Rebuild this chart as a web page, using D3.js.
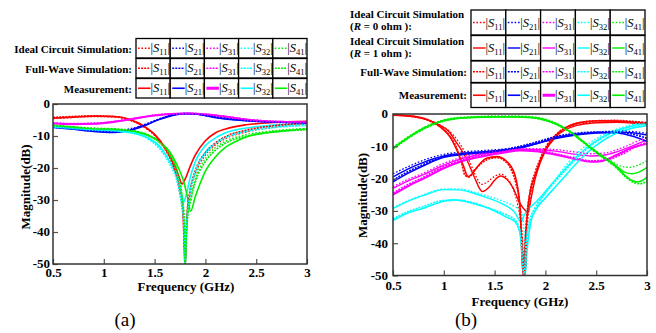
<!DOCTYPE html>
<html><head><meta charset="utf-8">
<script src="https://cdn.jsdelivr.net/npm/d3@7"></script>
<style>html,body{margin:0;padding:0;background:#fff;}svg{display:block;}</style>
</head><body>
<script>
// ---------------- DATA ----------------
const xTicks = [0.5, 1, 1.5, 2, 2.5, 3];
const yTicks = [0, -10, -20, -30, -40, -50];
const seriesNames = ["S11", "S21", "S31", "S32", "S41"];
const seriesColors = ["#ff0000", "#0000ff", "#ff00ff", "#00ffff", "#00ee00"];

// (a) [frequency GHz, magnitude dB]
const a_ideal_S11 = [[0.5,-4.6],[0.7,-4.2],[0.9,-3.9],[1.1,-4.1],[1.25,-5.0],[1.4,-7.3],[1.5,-9.8],[1.6,-13.8],[1.7,-20.5],[1.75,-27],[1.78,-34],[1.8,-50],[1.82,-35],[1.85,-28],[1.9,-22],[2.0,-16],[2.1,-12.8],[2.2,-10.8],[2.4,-8.8],[2.6,-7.6],[2.8,-6.8],[3.0,-6.3]];
const a_ideal_S21 = [[0.5,-7.0],[0.7,-7.6],[0.9,-8.1],[1.1,-8.3],[1.25,-7.8],[1.4,-6.4],[1.55,-4.6],[1.7,-3.3],[1.8,-3.0],[1.9,-3.1],[2.1,-4.0],[2.3,-4.8],[2.5,-5.3],[2.7,-5.6],[3.0,-5.9]];
const a_ideal_S31 = [[0.5,-5.9],[0.7,-6.1],[0.9,-6.0],[1.1,-5.4],[1.3,-4.4],[1.5,-3.5],[1.7,-3.0],[1.85,-3.0],[2.0,-3.2],[2.2,-3.9],[2.4,-4.7],[2.6,-5.3],[2.8,-5.7],[3.0,-5.9]];
const a_ideal_S32 = [[0.5,-7.0],[0.7,-7.5],[0.9,-7.9],[1.1,-8.1],[1.3,-8.9],[1.45,-10.8],[1.55,-13.5],[1.65,-18],[1.72,-23],[1.76,-29],[1.79,-37],[1.8,-50],[1.81,-40],[1.84,-29],[1.9,-21],[2.0,-15],[2.1,-12],[2.2,-10.2],[2.4,-8.3],[2.6,-7.3],[2.8,-6.8],[3.0,-6.5]];
const a_ideal_S41 = [[0.5,-6.6],[0.7,-7.1],[0.9,-7.5],[1.1,-7.7],[1.3,-8.3],[1.45,-9.8],[1.55,-11.8],[1.65,-15.5],[1.72,-20.5],[1.76,-26],[1.79,-35],[1.8,-50],[1.82,-36],[1.86,-28.5],[1.9,-23.5],[2.0,-17],[2.1,-13.6],[2.2,-11.6],[2.4,-9.6],[2.6,-8.6],[2.8,-8.0],[3.0,-7.6]];

const a_fw_S11 = [[0.5,-4.2],[0.7,-3.9],[0.9,-3.7],[1.1,-3.9],[1.25,-4.9],[1.4,-7.2],[1.5,-9.7],[1.6,-13.9],[1.7,-21],[1.75,-28],[1.78,-35],[1.8,-50],[1.82,-34],[1.85,-27],[1.9,-21],[2.0,-15.2],[2.1,-12.2],[2.2,-10.2],[2.4,-8.2],[2.6,-7.1],[2.8,-6.4],[3.0,-6.0]];
const a_fw_S21 = [[0.5,-7.2],[0.7,-7.8],[0.9,-8.4],[1.1,-8.6],[1.25,-8.1],[1.4,-6.6],[1.55,-4.7],[1.7,-3.3],[1.8,-3.0],[1.9,-3.1],[2.1,-4.1],[2.3,-4.9],[2.5,-5.4],[2.7,-5.7],[3.0,-6.0]];
const a_fw_S31 = [[0.5,-6.0],[0.7,-6.2],[0.9,-6.1],[1.1,-5.5],[1.3,-4.5],[1.5,-3.5],[1.7,-3.0],[1.85,-2.9],[2.0,-3.2],[2.2,-3.9],[2.4,-4.8],[2.6,-5.3],[2.8,-5.6],[3.0,-5.8]];
const a_fw_S32 = [[0.5,-7.1],[0.7,-7.6],[0.9,-8.0],[1.1,-8.3],[1.3,-9.1],[1.45,-11.2],[1.55,-14],[1.65,-18.8],[1.72,-24],[1.76,-30],[1.79,-38],[1.8,-50],[1.81,-41],[1.84,-30],[1.9,-21.5],[2.0,-15.5],[2.1,-12.4],[2.2,-10.5],[2.4,-8.6],[2.6,-7.6],[2.8,-7.0],[3.0,-6.7]];
const a_fw_S41 = [[0.5,-6.7],[0.7,-7.2],[0.9,-7.7],[1.1,-7.9],[1.3,-8.5],[1.45,-10],[1.55,-12.1],[1.65,-16],[1.72,-21],[1.76,-27],[1.79,-36],[1.8,-50],[1.82,-37],[1.86,-29.5],[1.9,-24.5],[2.0,-18],[2.1,-14.4],[2.2,-12.2],[2.4,-10.1],[2.6,-9.0],[2.8,-8.4],[3.0,-8.0]];

const a_meas_S11 = [[0.5,-4.4],[0.7,-4.1],[0.9,-3.8],[1.1,-3.9],[1.25,-4.8],[1.4,-7.0],[1.5,-9.5],[1.6,-13.5],[1.7,-19.5],[1.74,-22.8],[1.77,-25],[1.8,-23.5],[1.85,-19.5],[1.9,-16],[2.0,-11.5],[2.1,-9.0],[2.2,-7.8],[2.4,-6.5],[2.6,-5.9],[2.8,-5.6],[3.0,-5.4]];
const a_meas_S21 = [[0.5,-7.3],[0.7,-7.9],[0.9,-8.6],[1.1,-8.9],[1.25,-8.3],[1.4,-6.8],[1.55,-4.8],[1.7,-3.4],[1.8,-3.0],[1.9,-3.1],[2.1,-4.3],[2.3,-5.0],[2.5,-5.4],[2.7,-5.6],[3.0,-5.8]];
const a_meas_S31 = [[0.5,-6.1],[0.7,-6.3],[0.9,-6.2],[1.1,-5.6],[1.3,-4.6],[1.5,-3.6],[1.7,-3.1],[1.85,-3.0],[2.0,-3.3],[2.2,-4.0],[2.4,-4.9],[2.6,-5.4],[2.8,-5.6],[3.0,-5.7]];
const a_meas_S32 = [[0.5,-7.2],[0.7,-7.7],[0.9,-8.2],[1.1,-8.4],[1.3,-9.2],[1.45,-10.8],[1.55,-13.2],[1.65,-18],[1.72,-22.5],[1.76,-27.5],[1.78,-31],[1.81,-28.5],[1.85,-23],[1.9,-18],[2.0,-13],[2.1,-10.6],[2.2,-9.0],[2.4,-7.5],[2.6,-6.8],[2.8,-6.4],[3.0,-6.1]];
const a_meas_S41 = [[0.5,-6.8],[0.7,-7.3],[0.9,-7.8],[1.1,-8.0],[1.3,-8.6],[1.45,-10],[1.55,-11.8],[1.65,-15],[1.72,-19],[1.78,-23.6],[1.82,-28.5],[1.855,-33.5],[1.9,-29],[1.95,-24.7],[2.0,-21],[2.1,-16.5],[2.2,-13.5],[2.3,-11.7],[2.4,-10.3],[2.6,-9.0],[2.8,-8.3],[3.0,-7.8]];

// (b)
const b_r0_S11 = [[0.5,-0.3],[0.7,-0.7],[0.85,-1.8],[0.95,-3.2],[1.05,-5.2],[1.15,-8.8],[1.25,-14.5],[1.32,-19.5],[1.37,-21.8],[1.43,-21],[1.5,-19.3],[1.56,-18.6],[1.62,-19.8],[1.68,-23],[1.73,-28.5],[1.77,-37],[1.8,-50],[1.82,-36],[1.86,-25],[1.9,-19],[1.95,-14.5],[2.0,-11],[2.1,-6.8],[2.2,-4.5],[2.3,-3.4],[2.5,-2.5],[2.7,-2.4],[2.85,-2.6],[3.0,-2.9]];
const b_r1_S11 = [[0.5,-0.4],[0.7,-0.8],[0.85,-1.9],[0.95,-3.3],[1.05,-5.4],[1.12,-8.6],[1.22,-13.7],[1.3,-19.5],[1.38,-24],[1.45,-22.5],[1.5,-20.5],[1.56,-19.2],[1.62,-20.2],[1.68,-22.8],[1.75,-27.7],[1.8,-29.8],[1.83,-30.5],[1.86,-26],[1.9,-20],[1.95,-15],[2.0,-11.5],[2.1,-7.2],[2.2,-4.8],[2.3,-3.6],[2.5,-2.7],[2.7,-2.6],[2.85,-2.8],[3.0,-3.1]];
const b_fw_S11 = [[0.5,-0.3],[0.7,-0.8],[0.85,-2.0],[0.95,-3.6],[1.05,-6.5],[1.12,-10],[1.17,-14.5],[1.21,-19],[1.25,-19.5],[1.3,-17.5],[1.38,-15],[1.45,-13.8],[1.52,-13.5],[1.6,-14.5],[1.66,-17],[1.71,-21.5],[1.75,-28.5],[1.79,-50],[1.81,-35],[1.85,-24],[1.9,-18],[1.95,-13.8],[2.0,-10.5],[2.1,-6.5],[2.2,-4.2],[2.3,-3.0],[2.5,-2.1],[2.7,-2.0],[2.85,-2.3],[3.0,-2.7]];
const b_meas_S11 = [[0.5,-0.3],[0.7,-0.7],[0.8,-1.3],[0.96,-3.9],[1.06,-7.0],[1.12,-10.6],[1.19,-15.8],[1.24,-19.4],[1.28,-18.5],[1.32,-16.8],[1.42,-13.7],[1.52,-13.2],[1.62,-14.7],[1.7,-18.9],[1.75,-29],[1.78,-50],[1.8,-40],[1.84,-26],[1.9,-18.9],[1.99,-11.6],[2.09,-7.0],[2.22,-3.9],[2.35,-2.6],[2.52,-2.1],[2.7,-2.2],[2.85,-2.5],[3.0,-2.9]];

const b_r0_S21 = [[0.5,-18.5],[0.65,-16.3],[0.8,-14.3],[1.0,-12.5],[1.2,-11.7],[1.4,-11.3],[1.6,-10.8],[1.75,-10.2],[1.9,-9.0],[2.1,-7.3],[2.3,-6.2],[2.5,-5.6],[2.7,-5.3],[2.85,-5.4],[3.0,-6.0]];
const b_r1_S21 = [[0.5,-19.5],[0.65,-17.0],[0.8,-15.0],[1.0,-13.0],[1.2,-12.1],[1.4,-11.7],[1.6,-11.1],[1.75,-10.5],[1.9,-9.3],[2.1,-7.6],[2.3,-6.5],[2.5,-5.9],[2.7,-5.6],[2.85,-5.8],[3.0,-6.5]];
const b_fw_S21 = [[0.5,-20.5],[0.65,-17.8],[0.8,-15.6],[1.0,-13.2],[1.2,-12.3],[1.4,-11.8],[1.6,-11.0],[1.75,-10.0],[1.9,-8.8],[2.1,-7.0],[2.3,-6.0],[2.5,-5.6],[2.7,-5.6],[2.85,-6.2],[3.0,-7.5]];
const b_meas_S21 = [[0.5,-21.0],[0.65,-18.3],[0.8,-16.0],[1.0,-13.4],[1.2,-12.5],[1.4,-12.0],[1.6,-11.2],[1.75,-10.4],[1.9,-9.3],[2.1,-7.4],[2.3,-6.3],[2.5,-5.8],[2.7,-5.9],[2.85,-6.8],[3.0,-8.5]];

const b_r0_S31 = [[0.5,-22.5],[0.65,-20.2],[0.8,-18.3],[1.0,-15.3],[1.2,-13.2],[1.4,-12.0],[1.6,-11.2],[1.75,-10.8],[1.9,-10.7],[2.1,-11.0],[2.3,-11.8],[2.45,-12.3],[2.6,-12.0],[2.75,-10.5],[2.9,-8.5],[3.0,-7.2]];
const b_r1_S31 = [[0.5,-23.0],[0.65,-20.7],[0.8,-18.8],[1.0,-15.8],[1.2,-13.6],[1.4,-12.3],[1.6,-11.5],[1.75,-11.0],[1.9,-11.0],[2.1,-11.5],[2.3,-12.5],[2.45,-13.0],[2.6,-12.6],[2.75,-11.2],[2.9,-9.3],[3.0,-8.0]];
const b_fw_S31 = [[0.5,-24.5],[0.65,-21.8],[0.8,-19.6],[1.0,-16.3],[1.2,-14.0],[1.4,-12.7],[1.6,-11.6],[1.75,-11.0],[1.9,-11.2],[2.1,-12.3],[2.3,-13.7],[2.45,-14.5],[2.6,-14.2],[2.75,-12.5],[2.9,-10.0],[3.0,-8.8]];
const b_meas_S31 = [[0.5,-25.0],[0.65,-22.3],[0.8,-20.0],[1.0,-16.8],[1.2,-14.4],[1.4,-13.0],[1.6,-11.9],[1.75,-11.3],[1.9,-11.5],[2.1,-12.6],[2.3,-14.0],[2.45,-14.8],[2.55,-14.6],[2.7,-12.7],[2.85,-10.5],[3.0,-9.2]];

const b_r0_S32 = [[0.5,-29.0],[0.65,-26.8],[0.8,-25.0],[1.0,-23.2],[1.15,-23.2],[1.3,-24.2],[1.45,-25.6],[1.6,-27.2],[1.7,-28.7],[1.76,-30],[1.79,-36],[1.8,-50],[1.81,-40],[1.85,-33.5],[1.9,-29.5],[2.0,-24.5],[2.1,-20.3],[2.2,-16.0],[2.3,-12.5],[2.4,-9.8],[2.5,-7.6],[2.6,-6.0],[2.7,-4.7],[2.85,-3.3],[3.0,-2.5]];
const b_r1_S32 = [[0.5,-29.3],[0.65,-27.0],[0.8,-25.2],[1.0,-23.4],[1.15,-23.5],[1.3,-24.6],[1.45,-26.2],[1.6,-28.2],[1.7,-30.5],[1.76,-33.5],[1.79,-31.5],[1.83,-29.5],[1.9,-27.5],[2.0,-24],[2.1,-20.3],[2.2,-16.8],[2.3,-13.5],[2.4,-10.6],[2.5,-8.3],[2.6,-6.5],[2.7,-5.1],[2.85,-3.7],[3.0,-2.8]];
const b_fw_S32 = [[0.5,-32.5],[0.65,-30.2],[0.8,-28.6],[1.0,-26.8],[1.15,-26.7],[1.3,-27.6],[1.45,-29.2],[1.6,-31],[1.7,-32.8],[1.75,-36],[1.79,-50],[1.81,-40],[1.85,-32.5],[1.9,-29],[2.0,-24.5],[2.1,-20.8],[2.2,-17.3],[2.3,-13.9],[2.4,-11],[2.5,-8.6],[2.6,-6.7],[2.7,-5.3],[2.85,-3.9],[3.0,-3.0]];
const b_meas_S32 = [[0.5,-33.0],[0.65,-30.6],[0.8,-29.2],[1.0,-27.0],[1.1,-26.6],[1.3,-27.8],[1.5,-30],[1.62,-32],[1.7,-33.3],[1.75,-37],[1.8,-50],[1.82,-42],[1.86,-33],[1.9,-30],[2.0,-26],[2.1,-22.5],[2.2,-19],[2.3,-15.5],[2.4,-12.3],[2.5,-9.7],[2.6,-7.6],[2.7,-6.0],[2.85,-4.4],[3.0,-3.6]];

const b_r0_S41 = [[0.5,-10.3],[0.6,-8.1],[0.7,-6.0],[0.8,-4.2],[0.9,-2.8],[1.0,-1.8],[1.1,-1.2],[1.3,-0.8],[1.5,-0.6],[1.7,-0.6],[1.85,-0.8],[1.95,-1.2],[2.05,-2.1],[2.15,-3.5],[2.25,-5.4],[2.35,-7.8],[2.45,-10.3],[2.55,-12.6],[2.65,-14.6],[2.72,-15.9],[2.78,-16.4],[2.83,-16.5],[2.9,-16.0],[2.95,-15.3],[3.0,-14.5]];
const b_r1_S41 = [[0.5,-10.5],[0.6,-8.3],[0.7,-6.2],[0.8,-4.4],[0.9,-3.0],[1.0,-2.0],[1.1,-1.4],[1.3,-1.0],[1.5,-0.8],[1.7,-0.8],[1.85,-1.0],[1.95,-1.4],[2.05,-2.3],[2.15,-3.7],[2.25,-5.6],[2.35,-8.0],[2.45,-10.5],[2.55,-12.8],[2.65,-14.9],[2.72,-16.6],[2.78,-18.0],[2.85,-18.5],[2.92,-18.0],[3.0,-16.5]];
const b_fw_S41 = [[0.5,-10.8],[0.6,-8.6],[0.7,-6.5],[0.8,-4.7],[0.9,-3.2],[1.0,-2.2],[1.1,-1.5],[1.3,-1.0],[1.5,-0.9],[1.7,-0.9],[1.85,-1.1],[1.95,-1.6],[2.05,-2.5],[2.15,-3.9],[2.25,-5.8],[2.35,-8.2],[2.45,-10.8],[2.55,-13.2],[2.65,-15.4],[2.72,-17.3],[2.8,-19.8],[2.87,-21.2],[2.93,-21.6],[3.0,-20.8]];
const b_meas_S41 = [[0.5,-10.6],[0.6,-8.4],[0.7,-6.3],[0.8,-4.5],[0.9,-3.1],[1.0,-2.1],[1.1,-1.5],[1.3,-1.1],[1.5,-0.9],[1.7,-0.9],[1.85,-1.1],[1.95,-1.5],[2.05,-2.4],[2.15,-3.8],[2.25,-5.7],[2.35,-8.1],[2.45,-10.6],[2.55,-13.0],[2.65,-15.1],[2.72,-17.0],[2.8,-19.5],[2.86,-20.7],[2.9,-21.0],[2.96,-20.5],[3.0,-19.5]];

// ---------------- DRAWING ----------------
const SERIF = '"Times New Roman", "Liberation Serif", "DejaVu Serif", serif';
const styles = {
  ideal: {dash: "1.6,1.8", width: 1.3},
  r0:    {dash: "1.6,1.8", width: 1.3},
  r1:    {dash: null, width: 1.4},
  fw:    {dash: "2,1.1", width: 1.7},
  meas:  {dash: null, width: 1.6}
};

const svg = d3.select("body").append("svg").attr("width", 656).attr("height", 333)
  .style("font-family", SERIF);

function drawPanel(id, box, sets, xLab, yLab, caption, pads) {
  const x = d3.scaleLinear().domain([0.5, 3]).range([box.x0, box.x1]);
  const y = d3.scaleLinear().domain([0, -50]).range([box.y0, box.y1]);
  const g = svg.append("g");
  g.append("clipPath").attr("id", id).append("rect")
    .attr("x", box.x0).attr("y", box.y0).attr("width", box.x1 - box.x0).attr("height", box.y1 - box.y0);
  const line = d3.line().x(d => x(d[0])).y(d => y(d[1])).curve(d3.curveMonotoneX);
  const lg = g.append("g").attr("clip-path", `url(#${id})`);
  sets.forEach(set => {
    set.data.forEach((arr, i) => {
      const st = styles[set.type];
      let w = st.width;
      if (set.type === "meas" && seriesNames[i] === "S31") w = 2.0;
      lg.append("path").attr("d", line(arr)).attr("fill", "none")
        .attr("stroke", seriesColors[i]).attr("stroke-width", w)
        .attr("stroke-dasharray", st.dash);
    });
  });
  // axes
  const xa = g.append("g").attr("transform", `translate(0,${box.y1})`)
    .call(d3.axisBottom(x).tickValues(xTicks).tickSizeInner(-5).tickSizeOuter(0).tickPadding(pads[0]).tickFormat(d => String(d)));
  const ya = g.append("g").attr("transform", `translate(${box.x0},0)`)
    .call(d3.axisLeft(y).tickValues(yTicks).tickSizeInner(-5).tickSizeOuter(0).tickPadding(pads[1]).tickFormat(d => String(d)));
  [xa, ya].forEach(a => {
    a.attr("font-family", null);
    a.select(".domain").remove();
    a.selectAll(".tick line").attr("stroke", "#555").attr("stroke-width", 1.2);
    a.selectAll(".tick text").attr("fill", "#000").style("font-family", SERIF)
      .style("font-size", "13px").style("font-weight", "bold");
  });
  ya.selectAll(".tick text").attr("dy", "0.3em");
  g.append("rect").attr("x", box.x0).attr("y", box.y0).attr("width", box.x1 - box.x0).attr("height", box.y1 - box.y0)
    .attr("fill", "none").attr("stroke", "#333").attr("stroke-width", 1.5);
  g.append("text").attr("x", xLab[0]).attr("y", xLab[1]).attr("text-anchor", "middle")
    .style("font-size", "13px").style("font-weight", "bold").text("Frequency (GHz)");
  g.append("text").attr("transform", `translate(${yLab[0]},${yLab[1]}) rotate(-90)`).attr("text-anchor", "middle")
    .attr("dy", "0.35em").style("font-size", "13px").style("font-weight", "bold").text("Magnitude(dB)");
  g.append("text").attr("x", caption[0]).attr("y", caption[1]).attr("text-anchor", "middle")
    .style("font-size", "19px").text(caption[2]);
}

drawPanel("clipA", {x0: 53, x1: 307, y0: 104, y1: 264}, [
  {type: "ideal", data: [a_ideal_S11, a_ideal_S21, a_ideal_S31, a_ideal_S32, a_ideal_S41]},
  {type: "meas", data: [a_meas_S11, a_meas_S21, a_meas_S31, a_meas_S32, a_meas_S41]},
  {type: "fw", data: [a_fw_S11, a_fw_S21, a_fw_S31, a_fw_S32, a_fw_S41]}
], [186, 291], [25, 187], [125, 326, "(a)"], [3.5, 3]);

drawPanel("clipB", {x0: 393, x1: 647, y0: 114, y1: 275.5}, [
  {type: "r1", data: [b_r1_S11, b_r1_S21, b_r1_S31, b_r1_S32, b_r1_S41]},
  {type: "meas", data: [b_meas_S11, b_meas_S21, b_meas_S31, b_meas_S32, b_meas_S41]},
  {type: "r0", data: [b_r0_S11, b_r0_S21, b_r0_S31, b_r0_S32, b_r0_S41]},
  {type: "fw", data: [b_fw_S11, b_fw_S21, b_fw_S31, b_fw_S32, b_fw_S41]}
], [520, 306], [362.5, 195.5], [466, 326, "(b)"], [5, 5]);

// ---------------- LEGENDS ----------------
function legendCell(g, x, top, w, h, type, i) {
  g.append("rect").attr("x", x).attr("y", top).attr("width", w).attr("height", h)
    .attr("fill", "#fff").attr("stroke", "#000").attr("stroke-width", 1.3);
  const cy = top + h / 2;
  const st = styles[type];
  let sw = st.width;
  if (type === "meas" && seriesNames[i] === "S31") sw = 3;
  g.append("line").attr("x1", x + 2).attr("x2", x + 14.5).attr("y1", cy).attr("y2", cy)
    .attr("stroke", seriesColors[i]).attr("stroke-width", sw).attr("stroke-dasharray", st.dash);
  const t = g.append("text").attr("x", x + 14.5).attr("y", cy + 4).style("font-size", "12.5px");
  t.append("tspan").text("|");
  t.append("tspan").style("font-style", "italic").text("S");
  t.append("tspan").attr("dy", 3).style("font-size", "8.5px").text(seriesNames[i].slice(1));
  t.append("tspan").attr("dy", -3).text("|");
}

// legend (a)
const legA = svg.append("g");
const legARows = [["Ideal Circuit Simulation:", "ideal"], ["Full-Wave Simulation:", "fw"], ["Measurement:", "meas"]];
legARows.forEach((r, k) => {
  const top = 38.5 + k * 20;
  legA.append("text").attr("x", 132).attr("y", top + 14).attr("text-anchor", "end")
    .style("font-size", "11px").style("font-weight", "bold").text(r[0]);
  seriesNames.forEach((s, i) => legendCell(legA, 136 + i * 34.2, top, 34.2, 19.5, r[1], i));
});

// legend (b)
const legB = svg.append("g");
const legBTops = [10, 35.5, 61, 83];
const legBH = [25, 25, 21.5, 24.5];
const legBTypes = ["r0", "r1", "fw", "meas"];
legBTypes.forEach((tp, k) => {
  seriesNames.forEach((s, i) => legendCell(legB, 471 + i * 34.8, legBTops[k], 34.8, legBH[k], tp, i));
});
[["0", 17.5, 29.5], ["1", 45, 57]].forEach(r => {
  legB.append("text").attr("x", 350).attr("y", r[1]).style("font-size", "11px").style("font-weight", "bold")
    .text("Ideal Circuit Simulation");
  const t = legB.append("text").attr("x", 350).attr("y", r[2]).style("font-size", "11px").style("font-weight", "bold");
  t.append("tspan").text("(");
  t.append("tspan").style("font-style", "italic").text("R");
  t.append("tspan").text(` = ${r[0]} ohm ):`);
});
legB.append("text").attr("x", 467).attr("y", 75.5).attr("text-anchor", "end").style("font-size", "11px")
  .style("font-weight", "bold").text("Full-Wave Simulation:");
legB.append("text").attr("x", 467).attr("y", 99).attr("text-anchor", "end").style("font-size", "11px")
  .style("font-weight", "bold").text("Measurement:");
</script>
</body></html>
